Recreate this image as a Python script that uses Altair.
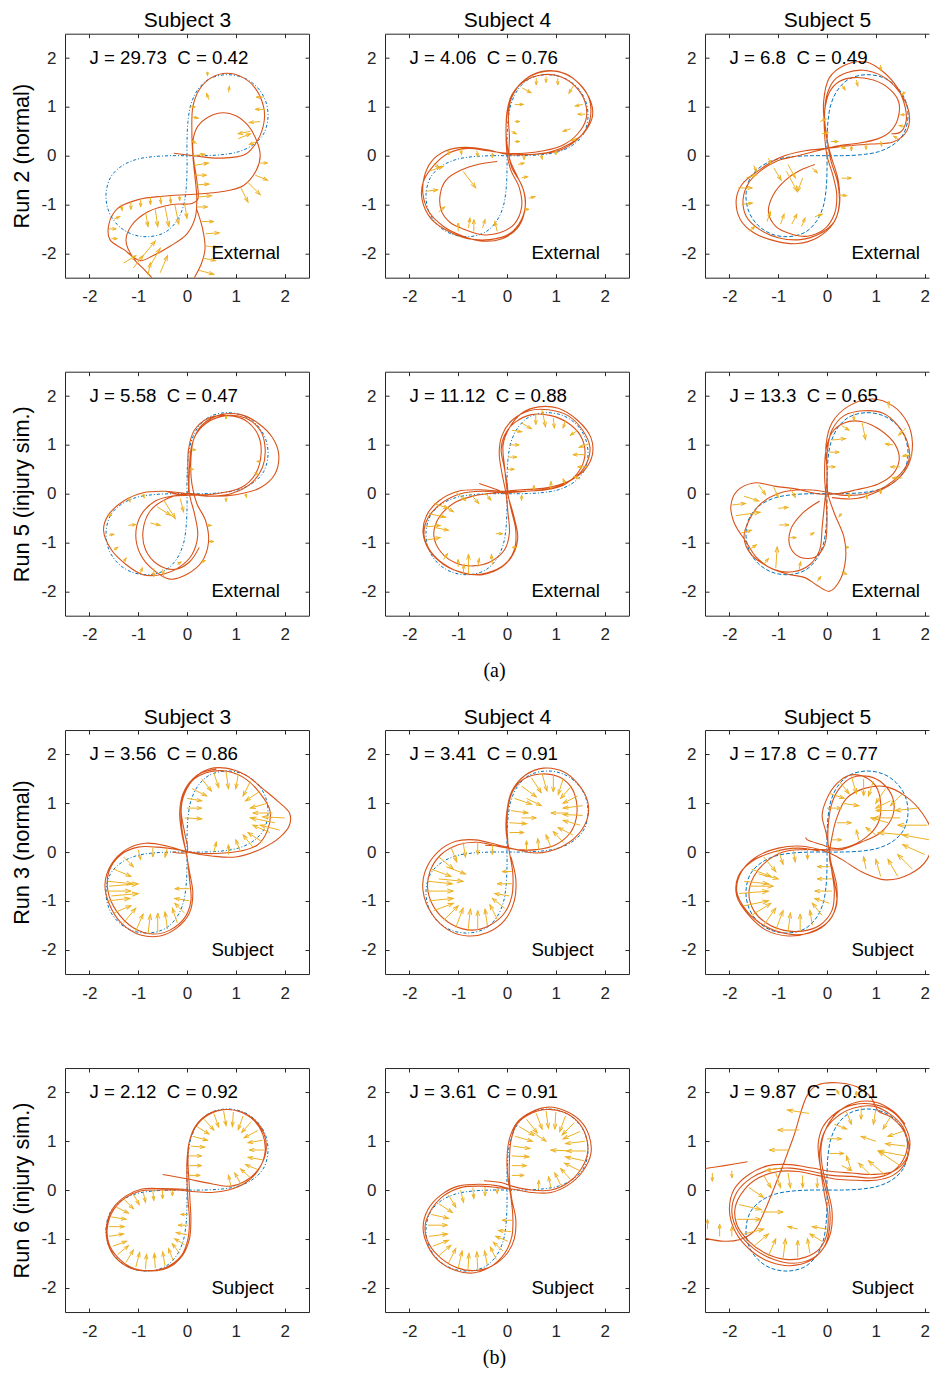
import math
import altair as alt
import pandas as pd

FONT = "Liberation Sans"
DARK = "#262626"
BLUE = "#0072BD"
ORANGE = "#D95319"
YELLOW = "#EDB120"

SUBJECTS = ["Subject 3", "Subject 4", "Subject 5"]
RUN_LABELS = ["Run 2 (normal)", "Run 5 (injury sim.)", "Run 3 (normal)", "Run 6 (injury sim.)"]
MODES = ["External", "External", "Subject", "Subject"]
J_LABELS = [["29.73", "4.06", "6.8"], ["5.58", "11.12", "13.3"], ["3.56", "3.41", "17.8"], ["2.12", "3.61", "9.87"]]
C_LABELS = [["0.42", "0.76", "0.49"], ["0.47", "0.88", "0.65"], ["0.86", "0.91", "0.77"], ["0.92", "0.91", "0.81"]]
CAPTIONS = {1: "(a)", 3: "(b)"}
TICKS = [-2, -1, 0, 1, 2]
SCORE_POS = (-2.0, 2.0)
MODE_POS = (0.5, -2.0)

# reference figure-eight
REF = [(0, 0), (0, 0.3), (0.02, 0.7), (0.08, 1.05), (0.22, 1.35), (0.45, 1.57), (0.8, 1.66), (1.15, 1.6),
       (1.42, 1.42), (1.6, 1.15), (1.66, 0.8), (1.57, 0.45), (1.35, 0.22), (1.05, 0.08), (0.7, 0.02), (0.3, 0.0),
       (0, 0), (-0.3, 0.0), (-0.7, -0.02), (-1.05, -0.08), (-1.35, -0.22), (-1.57, -0.45), (-1.66, -0.8),
       (-1.6, -1.15), (-1.42, -1.42), (-1.15, -1.6), (-0.8, -1.66), (-0.45, -1.57), (-0.22, -1.35),
       (-0.08, -1.05), (-0.02, -0.7), (0, -0.3), (0, 0)]

TRAJ = {
(0, 0): [
 [(-0.27,0.05),(0.14,0.0),(0.68,-0.05),(1.2,0.03),(1.45,0.32),(1.58,0.7),(1.57,1.0),(1.4,1.38),(1.15,1.6),(0.82,1.69),(0.5,1.6),(0.25,1.35),(0.12,1.0),(0.1,0.5),(0.12,0.0),(0.17,-0.5),(0.2,-0.85),(0.17,-1.26),(0.0,-1.6),(-0.34,-1.85),(-0.7,-2.05),(-0.96,-2.15),(-1.3,-1.92),(-1.58,-1.72),(-1.6,-1.4),(-1.42,-1.08),(-1.0,-0.9),(-0.5,-0.83),(0.14,-0.79),(0.7,-0.74),(1.16,-0.61),(1.42,-0.3),(1.5,0.0),(1.43,0.3),(1.25,0.62),(1.0,0.82),(0.75,0.88),(0.45,0.8),(0.22,0.6),(0.12,0.3),(0.14,-0.1),(0.2,-0.5),(0.22,-0.9),(0.1,-0.98),(-0.3,-1.0),(-0.8,-1.15),(-1.15,-1.45),(-1.25,-1.75),(-1.1,-2.1),(-0.88,-2.33),(-0.72,-2.5)],
 [(0.2,-1.1),(0.32,-1.5),(0.37,-1.9),(0.3,-2.2),(0.15,-2.5)]],
(0, 1): [
 [(-0.2,-0.12),(-0.6,-0.18),(-0.93,-0.29),(-1.25,-0.5),(-1.37,-0.8),(-1.34,-1.14),(-1.15,-1.38),(-0.9,-1.5),(-0.5,-1.62),(-0.15,-1.58),(0.15,-1.4),(0.3,-1.05),(0.25,-0.65),(0.08,-0.3),(0.0,0.05),(-0.02,0.45),(0.0,0.9),(0.1,1.25),(0.35,1.52),(0.72,1.66),(1.1,1.62),(1.4,1.42),(1.6,1.1),(1.62,0.75),(1.45,0.45),(1.15,0.22),(0.75,0.1),(0.35,0.05),(0.0,0.05),
  (-0.4,0.1),(-0.8,0.15),(-1.2,0.05),(-1.5,-0.2),(-1.72,-0.55),(-1.74,-0.9),(-1.55,-1.3),(-1.2,-1.55),(-0.8,-1.7),(-0.35,-1.72),(0.05,-1.6),(0.3,-1.3),(0.38,-0.95),(0.3,-0.6),(0.1,-0.25),(0.02,0.1),(-0.02,0.5),(0.02,0.95),(0.15,1.3),(0.42,1.6),(0.8,1.74),(1.2,1.68),(1.5,1.45),(1.72,1.1),(1.75,0.8),(1.6,0.5),(1.3,0.25),(0.9,0.08),(0.4,0.02),(0.0,0.03),
  (-0.4,0.12),(-0.85,0.17),(-1.25,0.1),(-1.55,-0.12),(-1.7,-0.45),(-1.72,-0.8),(-1.6,-1.15),(-1.3,-1.45),(-0.9,-1.65),(-0.5,-1.75),(-0.1,-1.7),(0.2,-1.5),(0.36,-1.15),(0.35,-0.75),(0.2,-0.4),(0.05,-0.05),(0.05,0.4),(0.03,0.85),(0.1,1.2),(0.3,1.5),(0.65,1.7),(1.05,1.72),(1.4,1.55),(1.65,1.25),(1.72,0.9),(1.65,0.6),(1.4,0.3),(1.05,0.1),(0.6,0.03),(0.2,0.03)]],
(0, 2): [
 [(-0.25,-0.18),(-0.55,-0.3),(-0.85,-0.5),(-1.1,-0.8),(-1.2,-1.15),(-1.05,-1.45),(-0.75,-1.6),(-0.4,-1.65),(-0.05,-1.5),(0.15,-1.2),(0.2,-0.8),(0.12,-0.4),(0.0,0.0),(-0.05,0.45),(-0.05,0.9),(0.05,1.3),(0.25,1.52),(0.55,1.6),(0.95,1.55),(1.3,1.35),(1.47,1.1),(1.45,0.75),(1.3,0.5),(1.05,0.35),(0.6,0.25),(0.2,0.2),(-0.2,0.1),(-0.6,0.0),(-1.0,-0.1),(-1.35,-0.3),(-1.6,-0.55),(-1.72,-0.9),(-1.65,-1.25),(-1.4,-1.5),(-1.0,-1.68),(-0.55,-1.72),(-0.15,-1.6),(0.15,-1.35),(0.25,-1.0),(0.22,-0.55),(0.08,-0.1),(0.0,0.35),(-0.05,0.8),(0.0,1.25),(0.15,1.55),(0.4,1.7),(0.75,1.75),(1.15,1.62),(1.45,1.35),(1.65,1.0),(1.69,0.7),(1.6,0.45),(1.35,0.28),(0.9,0.24),(0.4,0.2),(0.0,0.15),(-0.45,0.1),(-0.95,-0.03),(-1.4,-0.3),(-1.75,-0.6),(-1.86,-0.9),(-1.78,-1.3),(-1.5,-1.58),(-1.05,-1.75),(-0.6,-1.8),(-0.2,-1.68),(0.12,-1.4),(0.25,-1.05),(0.23,-0.5),(0.08,0.0),(-0.03,0.5),(-0.07,1.1),(0.05,1.6),(0.35,1.85),(0.8,1.92),(1.15,1.72),(1.45,1.38),(1.6,1.0),(1.62,0.7),(1.5,0.48),(1.32,0.45)]],
(1, 0): [
 [(-0.44,0.05),(0.0,0.0),(0.02,0.4),(0.03,0.9),(0.15,1.3),(0.45,1.55),(0.85,1.6),(1.2,1.5),(1.45,1.22),(1.52,0.85),(1.4,0.4),(1.1,0.12),(0.6,0.0),(0.1,-0.03),(-0.3,-0.05),(-0.65,-0.15),(-0.95,-0.45),(-1.05,-0.85),(-0.95,-1.25),(-0.7,-1.55),(-0.35,-1.75),(0.0,-1.65),(0.3,-1.4),(0.44,-1.0),(0.38,-0.55),(0.2,-0.2),(0.1,0.2),(0.08,0.7),(0.15,1.15),(0.4,1.45),(0.8,1.6),(1.2,1.55),(1.5,1.3),(1.6,0.95),(1.55,0.55),(1.3,0.2),(0.9,0.0),(0.4,-0.05),(0.0,0.0),(-0.45,0.05),(-0.9,0.02),(-1.3,-0.15),(-1.62,-0.45),(-1.71,-0.75),(-1.55,-1.15),(-1.25,-1.45),(-0.9,-1.66),(-0.5,-1.65),(-0.15,-1.5),(0.1,-1.25),(0.22,-0.85),(0.15,-0.4),(0.05,0.0),(0.05,0.5),(0.1,1.0),(0.3,1.4),(0.7,1.62),(1.1,1.62),(1.45,1.45),(1.75,1.15),(1.88,0.8),(1.8,0.4),(1.5,0.12),(1.0,-0.02),(0.5,-0.05),(0.0,0.0),(-0.4,-0.1),(-0.75,-0.35),(-0.9,-0.75),(-0.85,-1.15),(-0.6,-1.45),(-0.25,-1.55),(0.05,-1.4),(0.25,-1.1)]],
(1, 1): [
 [(-0.57,0.21),(-0.2,0.08),(0.0,0.0),(-0.05,0.5),(-0.12,0.9),(-0.05,1.2),(0.15,1.45),(0.5,1.62),(0.9,1.6),(1.25,1.45),(1.5,1.2),(1.6,0.85),(1.5,0.5),(1.2,0.2),(0.8,0.08),(0.3,0.05),(-0.2,0.02),(-0.7,-0.05),(-1.1,-0.2),(-1.4,-0.5),(-1.5,-0.85),(-1.35,-1.2),(-1.05,-1.42),(-0.7,-1.48),(-0.35,-1.4),(-0.05,-1.15),(0.05,-0.8),(0.02,-0.4),(-0.02,0.0),(-0.1,0.4),(-0.16,0.85),(-0.1,1.2),(0.1,1.5),(0.45,1.7),(0.85,1.72),(1.25,1.6),(1.55,1.3),(1.7,0.95),(1.62,0.6),(1.35,0.3),(0.95,0.12),(0.4,0.05),(0.0,0.02),(-0.5,0.05),(-0.95,0.0),(-1.35,-0.2),(-1.62,-0.5),(-1.7,-0.85),(-1.55,-1.2),(-1.2,-1.5),(-0.8,-1.65),(-0.4,-1.62),(-0.05,-1.45),(0.15,-1.15),(0.18,-0.75),(0.08,-0.3),(0.0,0.1),(-0.05,0.55),(-0.08,1.0),(0.05,1.35),(0.3,1.65),(0.65,1.78),(1.05,1.75),(1.45,1.5),(1.72,1.15),(1.75,0.8),(1.6,0.5),(1.25,0.25),(0.8,0.12),(0.3,0.08),(-0.1,0.05),(-0.55,0.08),(-1.0,0.05),(-1.4,-0.15),(-1.65,-0.45),(-1.72,-0.8),(-1.6,-1.15),(-1.3,-1.45),(-0.9,-1.62),(-0.5,-1.66),(-0.1,-1.5),(0.12,-1.25),(0.22,-0.9),(0.15,-0.5),(0.05,-0.15)]],
(1, 2): [
 [(-0.15,-0.15),(-0.5,-0.4),(-0.75,-0.75),(-0.75,-1.1),(-0.55,-1.3),(-0.25,-1.3),(-0.05,-1.05),(0.0,-0.6),(-0.02,-0.1),(-0.05,0.4),(-0.02,0.9),(0.1,1.25),(0.35,1.45),(0.7,1.48),(1.1,1.3),(1.4,1.0),(1.48,0.7),(1.35,0.4),(1.05,0.2),(0.6,0.08),(0.2,0.0),(-0.2,0.0),(-0.65,0.1),(-1.05,0.15),(-1.5,0.22),(-1.85,0.05),(-1.97,-0.25),(-1.9,-0.6),(-1.65,-1.0),(-1.45,-1.3),(-1.1,-1.55),(-0.7,-1.6),(-0.35,-1.45),(-0.15,-1.15),(-0.1,-0.7),(-0.05,-0.2),(0.0,0.3),(0.0,0.8),(0.1,1.3),(0.35,1.6),(0.75,1.7),(1.15,1.65),(1.45,1.4),(1.65,1.05),(1.68,0.7),(1.5,0.4),(1.2,0.15),(0.8,0.0),(0.3,-0.03),(-0.1,0.05),(-0.5,0.08),(-0.95,0.02),(-1.35,-0.2),(-1.6,-0.55),(-1.7,-0.9),(-1.55,-1.25),(-1.2,-1.5),(-0.8,-1.65),(-0.45,-1.72),(-0.2,-1.88),(0.05,-2.0),(0.25,-1.8),(0.38,-1.35),(0.35,-0.9),(0.15,-0.4),(0.02,0.0),(0.0,0.5),(-0.02,1.0),(0.1,1.45),(0.45,1.8),(0.93,1.94),(1.35,1.8),(1.65,1.45),(1.75,1.05),(1.68,0.62),(1.45,0.3),(1.05,0.05),(0.6,-0.1),(0.1,-0.08)]],
(2, 0): [
 [(-0.3,0.0),(0.0,0.0),(-0.05,0.4),(-0.12,0.85),(-0.05,1.2),(0.15,1.5),(0.5,1.65),(0.85,1.65),(1.2,1.5),(1.5,1.2),(1.7,0.85),(1.65,0.45),(1.45,0.15),(1.1,0.02),(0.6,-0.03),(0.2,-0.02),(-0.2,0.05),(-0.6,0.1),(-1.0,0.1),(-1.35,-0.05),(-1.6,-0.4),(-1.62,-0.8),(-1.45,-1.2),(-1.1,-1.55),(-0.7,-1.68),(-0.35,-1.6),(-0.05,-1.35),(0.08,-1.0),(0.05,-0.55),(0.0,-0.1),(-0.1,0.35),(-0.15,0.8),(-0.08,1.2),(0.12,1.5),(0.45,1.7),(0.8,1.72),(1.2,1.58),(1.55,1.3),(1.85,1.05),(2.1,0.8),(2.1,0.55),(1.9,0.3),(1.55,0.08),(1.0,-0.1),(0.5,-0.08),(0.0,0.0),(-0.4,0.12),(-0.85,0.18),(-1.25,0.05),(-1.55,-0.25),(-1.68,-0.65),(-1.6,-1.05),(-1.35,-1.45),(-0.95,-1.7),(-0.55,-1.72),(-0.2,-1.55),(0.05,-1.25),(0.12,-0.85),(0.05,-0.4),(-0.02,0.0),(-0.1,0.45),(-0.12,0.9),(-0.02,1.3),(0.25,1.6),(0.6,1.7)]],
(2, 1): [
 [(-0.45,0.14),(-0.1,0.12),(0.0,0.1),(0.0,0.5),(0.02,0.9),(0.12,1.25),(0.35,1.5),(0.7,1.6),(1.05,1.55),(1.3,1.35),(1.42,1.05),(1.42,0.7),(1.3,0.4),(1.0,0.15),(0.6,0.05),(0.2,0.05),(-0.2,0.12),(-0.6,0.2),(-1.0,0.15),(-1.35,-0.05),(-1.58,-0.4),(-1.62,-0.8),(-1.45,-1.2),(-1.1,-1.5),(-0.7,-1.6),(-0.35,-1.5),(-0.05,-1.25),(0.1,-0.9),(0.12,-0.45),(0.05,0.0),(-0.02,0.45),(0.0,0.85),(0.1,1.25),(0.38,1.58),(0.75,1.72),(1.15,1.65),(1.45,1.4),(1.65,1.05),(1.65,0.7),(1.45,0.35),(1.1,0.1),(0.6,-0.02),(0.2,0.05),(-0.2,0.15),(-0.65,0.25),(-1.05,0.22),(-1.42,0.0),(-1.68,-0.4),(-1.72,-0.8),(-1.55,-1.25),(-1.2,-1.6),(-0.8,-1.72),(-0.4,-1.65),(-0.05,-1.4),(0.15,-1.0),(0.18,-0.55),(0.08,-0.1)]],
(2, 2): [
 [(-0.44,0.3),(-0.4,0.25),(-0.1,0.15),(0.1,0.08),(0.4,0.1),(0.8,0.3),(1.05,0.6),(1.1,1.0),(1.0,1.35),(0.75,1.55),(0.45,1.57),(0.2,1.4),(0.0,1.1),(-0.1,0.75),(-0.02,0.4),(0.05,0.0),(0.1,-0.4),(0.15,-0.8),(0.1,-1.2),(-0.15,-1.5),(-0.5,-1.62),(-0.9,-1.6),(-1.25,-1.45),(-1.5,-1.2),(-1.6,-0.85),(-1.5,-0.5),(-1.25,-0.2),(-0.9,0.0),(-0.5,0.05),(-0.1,0.05),(0.3,0.05),(0.7,0.2),(1.1,0.4),(1.35,0.75),(1.35,1.1),(1.15,1.4),(0.85,1.55),(0.5,1.52),(0.25,1.3),(0.1,1.0),(0.03,0.6),(0.02,0.2),(0.08,-0.2),(0.2,-0.7),(0.18,-1.15),(-0.05,-1.5),(-0.45,-1.68),(-0.85,-1.67),(-1.3,-1.5),(-1.65,-1.2),(-1.85,-0.8),(-1.75,-0.4),(-1.45,-0.1),(-1.0,0.08),(-0.5,0.12),(0.0,0.0),(0.3,-0.15),(0.7,-0.4),(1.2,-0.57),(1.7,-0.45),(2.05,-0.15),(2.16,0.35),(1.95,0.8),(1.6,1.15),(1.2,1.34),(0.75,1.3),(0.4,1.1),(0.2,0.7),(0.1,0.3),(0.05,-0.1),(0.15,-0.6),(0.2,-1.0),(0.05,-1.4),(-0.35,-1.65),(-0.8,-1.72),(-1.25,-1.6),(-1.6,-1.3),(-1.85,-0.9),(-1.82,-0.5),(-1.55,-0.2),(-1.1,0.0),(-0.6,0.08),(-0.15,0.02)]],
(3, 0): [
 [(-0.5,0.32),(0.0,0.23),(0.5,0.13),(0.9,0.08),(1.22,0.2),(1.48,0.45),(1.62,0.8),(1.58,1.15),(1.4,1.42),(1.12,1.6),(0.8,1.65),(0.45,1.55),(0.2,1.33),(0.05,1.0),(0.0,0.6),(0.0,0.2),(0.02,-0.2),(0.05,-0.6),(0.02,-1.0),(-0.12,-1.35),(-0.42,-1.58),(-0.8,-1.65),(-1.15,-1.58),(-1.42,-1.38),(-1.6,-1.1),(-1.63,-0.75),(-1.5,-0.4),(-1.25,-0.15),(-0.95,-0.02),(-0.55,0.0),(-0.2,0.0),(0.1,-0.03),(0.5,-0.05),(0.85,0.0),(1.2,0.15),(1.47,0.42),(1.6,0.78),(1.55,1.15),(1.38,1.42),(1.1,1.6),(0.78,1.65),(0.42,1.55),(0.18,1.32),(0.05,1.0),(0.02,0.6),(0.04,0.2),(0.06,-0.2),(0.08,-0.6),(0.05,-1.0),(-0.1,-1.35),(-0.4,-1.6),(-0.78,-1.66),(-1.15,-1.6),(-1.45,-1.4),(-1.62,-1.1),(-1.65,-0.75),(-1.52,-0.38),(-1.25,-0.12),(-0.92,0.02),(-0.5,0.03),(-0.15,0.02),(0.05,0.0)]],
(3, 1): [
 [(-0.47,0.19),(-0.1,0.15),(0.1,0.08),(0.5,0.0),(0.9,0.0),(1.25,0.15),(1.5,0.4),(1.65,0.75),(1.62,1.1),(1.45,1.4),(1.15,1.6),(0.8,1.65),(0.45,1.55),(0.2,1.35),(0.08,1.0),(0.05,0.6),(0.05,0.2),(0.1,-0.2),(0.18,-0.6),(0.15,-1.0),(0.0,-1.3),(-0.3,-1.55),(-0.65,-1.65),(-1.0,-1.6),(-1.35,-1.4),(-1.6,-1.1),(-1.68,-0.75),(-1.55,-0.4),(-1.3,-0.12),(-0.95,0.05),(-0.55,0.08),(-0.2,0.05),(0.1,0.02),(0.5,-0.05),(0.9,-0.05),(1.25,0.1),(1.55,0.38),(1.72,0.75),(1.68,1.12),(1.5,1.42),(1.2,1.62),(0.85,1.7),(0.5,1.6),(0.22,1.4),(0.05,1.05),(0.0,0.65),(0.02,0.25),(0.08,-0.15),(0.12,-0.55),(0.1,-0.95),(-0.05,-1.3),(-0.35,-1.58),(-0.7,-1.7),(-1.05,-1.65),(-1.4,-1.45),(-1.62,-1.15),(-1.72,-0.78),(-1.62,-0.4),(-1.35,-0.1),(-1.0,0.08),(-0.55,0.12),(-0.15,0.08),(0.1,0.0)]],
(3, 2): [
 [(-2.49,0.44),(-2.1,0.5),(-1.63,0.58)],
 [(-2.49,-0.99),(-2.1,-1.05),(-1.8,-1.02),(-1.5,-0.85),(-1.4,-0.7),(-1.1,0.0),(-0.7,1.05),(-0.4,1.95),(-0.2,2.15),(0.2,2.2),(0.6,2.12),(0.9,1.9),(1.05,1.62),(1.3,1.5),(1.55,1.25),(1.68,0.9),(1.6,0.55),(1.35,0.3),(1.0,0.2),(0.6,0.2),(0.2,0.22),(-0.2,0.3),(-0.6,0.38),(-1.0,0.38),(-1.4,0.25),(-1.7,0.0),(-1.88,-0.35),(-1.85,-0.7),(-1.6,-1.05),(-1.25,-1.3),(-0.85,-1.42),(-0.45,-1.38),(-0.15,-1.2),(0.0,-0.9),(0.02,-0.5),(-0.05,-0.1),(-0.12,0.35),(-0.15,0.8),(-0.05,1.2),(0.2,1.5),(0.55,1.68),(0.95,1.72),(1.3,1.55),(1.55,1.3),(1.65,0.95),(1.55,0.6),(1.3,0.35),(0.95,0.25),(0.5,0.28),(0.1,0.3),(-0.3,0.38),(-0.75,0.45),(-1.15,0.42),(-1.55,0.25),(-1.85,-0.05),(-1.95,-0.45),(-1.82,-0.85),(-1.5,-1.2),(-1.1,-1.42),(-0.7,-1.5),(-0.3,-1.4),(-0.05,-1.15),(0.05,-0.8),(0.05,-0.35),(-0.05,0.1),(-0.15,0.55),(-0.18,0.95),(-0.08,1.3),(0.18,1.58),(0.55,1.75),(0.98,1.75),(1.35,1.6),(1.6,1.3),(1.7,0.95),(1.6,0.6),(1.35,0.38),(0.95,0.32),(0.5,0.35),(0.1,0.38),(-0.3,0.45),(-0.75,0.52),(-1.2,0.5),(-1.6,0.32),(-1.9,0.02),(-2.0,-0.4),(-1.88,-0.85),(-1.55,-1.25),(-1.15,-1.48),(-0.75,-1.55),(-0.35,-1.45),(-0.08,-1.2),(0.08,-0.85),(0.1,-0.4),(0.0,0.05),(-0.1,0.5),(-0.12,0.9),(0.0,1.3),(0.25,1.62),(0.6,1.8),(1.0,1.8),(1.35,1.62),(1.6,1.35)]],
}

# quiver arrows: (x, y, u, v)
ARROWS = {
(0, 0): [(0.42,1.72,0.0,-0.08),(0.05,1.0,0.12,0.0),(0.08,0.8,0.15,-0.03),(0.45,1.15,-0.05,0.12),(0.85,1.3,0.02,0.12),(1.57,1.2,-0.15,0.0),(1.6,0.95,-0.2,0.0),(1.5,0.7,-0.22,-0.02),(1.3,0.5,-0.25,-0.05),(1.05,0.35,0.25,0.1),(1.4,0.28,-0.12,-0.05),(0.2,0.25,-0.1,0.05),
         (0.12,0.0,0.25,0.03),(0.14,-0.2,0.3,0.05),(0.15,-0.4,0.25,0.0),(0.17,-0.6,0.28,0.02),(0.2,-0.85,0.3,0.03),(0.2,-1.05,0.22,0.0),
         (1.25,-0.55,0.25,-0.25),(1.4,-0.4,0.25,-0.1),(1.1,-0.65,0.15,-0.3),(1.5,-0.15,0.15,0.0),
         (-1.35,-1.0,0.02,-0.12),(-1.15,-0.95,0.0,-0.15),(-0.95,-0.9,0.0,-0.15),(-0.75,-0.85,0.0,-0.15),(-0.55,-0.83,0.02,-0.15),(-0.35,-0.82,0.02,-0.15),(-0.15,-0.8,0.0,-0.12),
         (-0.85,-1.15,0.05,-0.3),(-0.65,-1.1,0.05,-0.35),(-0.45,-1.05,0.08,-0.4),(-0.25,-1.0,0.08,-0.4),(-0.05,-0.98,0.05,-0.3),
         (-1.6,-1.5,0.15,0.0),(-1.5,-1.3,0.12,0.05),(-1.55,-1.7,0.12,0.0),
         (-1.3,-2.2,0.25,0.15),(-1.1,-2.3,0.2,0.25),(-0.9,-2.05,0.25,0.3),(-0.75,-2.25,0.2,0.35),(-0.55,-2.4,0.15,0.35),(-0.8,-2.45,0.05,0.25),
         (0.3,-1.35,0.25,0.0),(0.38,-1.6,0.28,0.02),(0.38,-1.85,0.25,-0.03),(0.33,-2.1,0.25,-0.05),(0.25,-2.35,0.3,-0.08)],
(0, 1): [(0.31,1.39,0.18,-0.1),(0.16,1.05,0.18,0.0),(0.6,1.59,0.0,-0.14),(1.04,1.59,0.0,-0.14),(1.37,1.45,-0.1,-0.17),(1.6,0.85,-0.15,0.0),(1.55,1.05,-0.15,-0.03),(1.44,0.36,-0.12,-0.05),(1.3,0.55,-0.15,-0.05),(0.8,1.62,0.0,-0.12),(0.16,0.7,0.1,0.0),(0.09,0.5,0.1,-0.05),(0.16,0.29,0.1,0.0),(0.23,-0.18,0.12,0.03),(0.3,-0.45,0.12,0.02),(0.45,-0.87,0.12,0.03),(0.35,-1.1,0.1,0.0),(-0.9,-0.32,0.26,-0.34),(-1.0,-1.55,0.0,0.17),(-0.79,-1.48,0.03,0.2),(-0.68,-1.55,0.0,0.24),(-0.5,-1.48,0.05,0.17),(-0.2,-1.55,-0.05,0.2),(-1.67,-0.73,0.25,0.03),(-1.6,-0.32,0.29,0.1),(-1.4,-1.15,0.12,0.1),(-1.19,0.12,0.0,-0.1),(-0.95,0.15,0.02,-0.12),(-0.62,0.1,0.02,-0.12),(-0.3,0.06,0.0,-0.1),(0.35,0.02,0.0,-0.1),(0.7,0.03,0.02,-0.1),(1.0,0.12,0.0,-0.1),(-1.5,-0.15,0.1,-0.1)],
(0, 2): [(1.1,1.86,0.0,-0.12),(1.61,1.32,-0.07,-0.07),(1.61,0.84,-0.1,0.0),(1.58,0.6,-0.1,0.02),(1.45,0.35,-0.08,0.05),(0.3,1.45,0.07,-0.1),(0.6,1.55,0.03,-0.12),(-0.14,0.7,0.12,0.05),(-0.1,0.45,0.12,0.02),(0.08,0.29,0.15,0.0),(0.25,0.2,0.12,-0.05),(0.5,0.22,0.0,-0.12),(0.8,0.25,0.0,-0.12),(1.1,0.3,0.02,-0.1),(-0.8,-0.18,0.15,-0.27),(-1.09,-0.25,0.15,-0.25),(-0.83,-0.32,0.22,-0.41),(-0.5,-0.46,-0.1,-0.27),(-0.3,-0.25,0.1,-0.1),(-1.82,-0.66,0.29,0.0),(-1.75,-1.0,0.22,0.03),(-1.65,-0.45,0.2,0.05),(-1.23,-1.35,0.07,0.2),(-0.95,-1.4,0.07,0.2),(-0.72,-1.4,0.1,0.2),(-0.52,-1.45,0.07,0.17),(-0.25,-1.25,0.15,0.05),(0.3,-0.46,0.2,0.0),(0.25,-0.8,0.15,-0.02),(-1.5,-0.2,0.05,-0.12),(-1.2,-0.05,0.05,-0.12),(-1.6,-1.55,0.12,0.1)],
(1, 0): [(-0.48,-0.13,0.24,-0.38),(-0.61,-0.27,0.27,-0.17),(-0.14,-0.1,0.07,-0.27),(-1.64,-0.44,0.1,0.0),(-1.6,-0.85,0.1,0.02),(-1.5,-1.15,0.08,0.05),(-1.3,-1.4,0.05,0.08),(-0.68,-1.53,0.0,-0.17),(-0.5,-1.55,0.02,-0.12),(-0.95,-1.62,0.03,0.1),(0.45,-0.98,0.1,0.0),(0.42,-0.65,0.08,0.0),(0.3,-1.4,0.07,0.03),(-1.2,-0.08,0.03,-0.08),(-0.9,0.0,0.02,-0.08),(0.8,-0.08,0.0,-0.08),(1.2,0.0,0.02,-0.07),(1.5,0.66,-0.07,0.0),(1.45,0.4,-0.05,0.03),(0.8,1.6,0.0,-0.07),(0.1,0.9,0.08,0.0),(0.05,0.5,0.08,0.0),(-0.75,-0.6,0.2,-0.05),(-0.2,-1.45,0.08,0.05),(-1.2,-0.65,0.15,0.02)],
(1, 1): [(0.72,1.71,0.07,-0.34),(0.59,1.64,0.0,-0.22),(0.95,1.55,0.02,-0.2),(1.2,1.5,-0.05,-0.15),(0.3,1.45,0.2,-0.12),(0.1,1.3,0.2,-0.03),(0.05,1.0,0.2,0.0),(0.02,0.75,0.18,0.0),(0.0,0.5,0.15,0.0),(1.68,1.02,-0.2,-0.07),(1.65,0.55,-0.2,0.0),(1.45,1.3,-0.15,-0.1),(1.5,0.3,-0.12,0.05),(1.2,0.18,-0.05,0.12),(0.9,0.1,0.0,0.15),(0.55,0.05,0.0,0.12),(1.6,0.8,-0.25,0.0),(-1.67,-0.68,0.3,0.03),(-1.6,-0.41,0.34,-0.07),(-1.5,-0.2,0.3,-0.1),(-1.65,-0.95,0.28,0.05),(-1.05,0.03,0.2,-0.17),(-0.75,0.0,0.17,-0.2),(-0.45,0.02,0.12,-0.15),(-0.79,-1.64,0.0,0.4),(-0.6,-1.5,0.03,0.17),(-1.0,-1.5,0.0,0.15),(-1.3,-1.35,0.08,0.12),(-0.3,-1.45,-0.02,0.2),(-0.23,-0.82,0.14,0.0),(0.1,-1.1,0.1,0.0),(-1.45,-0.7,0.25,-0.05),(-1.3,-0.25,0.2,-0.12),(-0.9,-1.65,0.02,0.2),(0.3,-0.15,0.0,0.12)],
(1, 2): [(0.72,1.45,0.07,-0.34),(0.55,1.65,0.0,-0.15),(0.3,1.4,0.15,-0.1),(0.11,1.1,0.27,0.03),(0.05,0.85,0.2,0.0),(0.0,0.55,0.17,0.0),(1.61,1.34,-0.14,-0.14),(1.75,0.8,-0.2,-0.03),(1.54,0.32,-0.2,0.0),(1.27,1.75,0.0,0.14),(1.35,1.0,-0.15,0.02),(1.5,0.55,-0.2,0.0),(0.45,0.02,0.0,-0.1),(0.8,0.0,0.02,-0.1),(1.1,0.1,0.0,-0.1),(-1.94,-0.23,0.27,0.03),(-1.87,-0.45,0.5,0.07),(-1.7,-0.05,0.3,-0.1),(-1.4,0.18,0.14,-0.2),(-1.1,0.15,0.1,-0.22),(-0.75,0.1,0.1,-0.17),(-0.98,-0.64,0.2,0.0),(-1.0,-0.3,0.2,0.02),(-1.05,-1.53,0.03,0.44),(-0.57,-1.55,0.03,0.15),(-0.2,-1.8,0.07,0.1),(-1.6,-1.15,0.15,0.1),(-1.75,-0.8,0.2,0.05),(0.3,-0.4,-0.05,-0.07),(0.38,-1.1,0.07,0.0),(0.3,-1.6,0.1,-0.05),(-0.75,-0.9,0.12,0.0),(-0.35,-0.85,0.08,0.05),(-1.3,-1.45,0.1,0.12)],
(2, 0): [(0.0,0.9,0.3,0.0),(-0.05,0.7,0.35,-0.02),(0.0,1.1,0.3,-0.05),(0.1,1.3,0.3,-0.15),(0.3,1.5,0.2,-0.25),(0.55,1.62,0.1,-0.3),(0.8,1.65,0.05,-0.35),(1.05,1.6,-0.05,-0.3),(1.3,1.45,-0.15,-0.3),(1.5,1.25,-0.3,-0.2),(1.65,1.0,-0.35,-0.1),(1.75,0.8,-0.4,0.0),(1.8,0.6,-0.5,0.1),(1.7,0.4,-0.35,0.15),(1.55,0.2,-0.3,0.2),(1.35,0.1,-0.2,0.25),(1.1,0.0,-0.1,0.25),(0.85,-0.05,0.0,0.2),(0.55,0.0,0.05,0.2),(2.0,0.7,-0.45,0.02),(1.9,0.45,-0.4,0.1),
         (-0.4,0.1,-0.05,-0.2),(-0.7,0.1,0.0,-0.2),(-1.0,0.05,0.05,-0.2),(-1.3,-0.1,0.2,-0.2),(-1.5,-0.35,0.35,-0.15),(-1.62,-0.6,0.5,-0.05),(-1.65,-0.8,0.5,0.0),(-1.62,-1.0,0.45,0.05),(-1.5,-1.25,0.35,0.15),(-1.3,-1.45,0.25,0.3),(-1.05,-1.62,0.15,0.35),(-0.8,-1.68,0.05,0.4),(-0.6,-1.65,0.0,0.4),(-0.4,-1.58,-0.05,0.35),(-0.2,-1.45,-0.1,0.3),(-0.05,-1.25,-0.2,0.2),(0.05,-1.0,-0.3,0.05),(0.05,-0.75,-0.3,0.0),(-1.6,-0.7,0.6,0.05),(-1.55,-0.9,0.55,0.05)],
(2, 1): [(0.05,0.4,0.3,0.0),(0.05,0.6,0.35,-0.02),(0.08,0.85,0.35,-0.05),(0.15,1.1,0.35,-0.12),(0.3,1.35,0.3,-0.22),(0.5,1.52,0.2,-0.3),(0.72,1.6,0.1,-0.35),(0.95,1.58,0.0,-0.35),(1.15,1.5,-0.1,-0.32),(1.32,1.35,-0.22,-0.25),(1.45,1.15,-0.3,-0.15),(1.55,0.95,-0.4,-0.05),(1.55,0.75,-0.4,0.02),(1.5,0.55,-0.35,0.1),(1.35,0.35,-0.3,0.15),(1.15,0.2,-0.2,0.22),(0.9,0.1,-0.1,0.25),(0.65,0.05,-0.02,0.22),(0.4,0.05,0.0,0.18),(0.3,0.7,0.3,0.0),(0.4,1.1,0.3,-0.15),(1.25,0.8,-0.35,0.0),
         (-0.3,0.15,0.0,-0.2),(-0.6,0.2,0.0,-0.25),(-0.9,0.2,0.05,-0.3),(-1.15,0.1,0.12,-0.3),(-1.4,-0.1,0.3,-0.25),(-1.55,-0.35,0.4,-0.15),(-1.62,-0.6,0.5,-0.05),(-1.65,-0.8,0.55,0.0),(-1.6,-1.0,0.5,0.05),(-1.5,-1.2,0.4,0.15),(-1.3,-1.4,0.3,0.3),(-1.05,-1.55,0.15,0.4),(-0.8,-1.62,0.05,0.45),(-0.6,-1.6,0.0,0.4),(-0.4,-1.52,-0.05,0.35),(-0.2,-1.38,-0.15,0.3),(-0.05,-1.15,-0.25,0.2),(0.05,-0.9,-0.3,0.05),(0.1,-0.65,-0.3,0.0),(0.1,-0.4,-0.2,0.0),(-1.4,-0.55,0.5,-0.05),(-1.25,-0.3,0.4,-0.15)],
(2, 2): [(0.0,0.9,0.3,0.0),(0.05,1.2,0.3,-0.1),(0.25,1.45,0.2,-0.25),(0.5,1.55,0.1,-0.35),(0.75,1.5,0.0,-0.35),(0.95,1.45,-0.1,-0.3),(1.2,1.3,-0.2,-0.3),(1.3,1.05,-0.3,-0.15),(1.4,0.85,-0.4,0.0),(1.25,0.6,-0.35,0.1),(1.0,0.35,-0.2,0.15),(0.65,0.25,-0.05,0.2),(0.3,1.0,0.35,-0.05),(0.2,0.6,0.3,0.0),(1.55,1.2,-0.25,-0.25),(1.85,0.9,-0.45,-0.05),(2.05,0.55,-0.6,0.0),(2.1,0.25,-0.55,0.1),(2.0,-0.05,-0.45,0.2),(1.75,-0.35,-0.3,0.3),(1.45,-0.5,-0.2,0.35),(1.1,-0.5,-0.1,0.35),(0.8,-0.35,-0.05,0.25),(1.6,0.35,-0.55,0.05),(1.5,0.7,-0.55,0.0),(0.1,0.25,0.2,0.0),
         (-0.4,0.1,0.0,-0.25),(-0.7,0.1,0.05,-0.3),(-1.0,0.05,0.1,-0.3),(-1.3,-0.1,0.25,-0.3),(-1.55,-0.35,0.4,-0.15),(-1.7,-0.6,0.5,-0.05),(-1.8,-0.85,0.6,0.05),(-1.7,-1.1,0.5,0.1),(-1.55,-1.3,0.4,0.25),(-1.3,-1.5,0.25,0.35),(-1.05,-1.6,0.15,0.4),(-0.8,-1.65,0.05,0.4),(-0.55,-1.62,0.0,0.35),(-0.3,-1.5,-0.05,0.3),(-0.1,-1.3,-0.2,0.25),(0.05,-1.05,-0.3,0.1),(0.1,-0.8,-0.35,0.0),(0.1,-0.55,-0.3,0.0),(0.05,-0.3,-0.25,0.0),(-1.6,-0.7,0.5,0.0),(-1.4,-0.45,0.4,-0.1)],
(3, 0): [(0.05,0.3,0.22,0.0),(0.05,0.5,0.25,0.0),(0.05,0.7,0.25,0.0),(0.08,0.9,0.28,-0.02),(0.12,1.1,0.3,-0.08),(0.2,1.3,0.25,-0.15),(0.35,1.45,0.2,-0.22),(0.55,1.57,0.1,-0.28),(0.75,1.62,0.05,-0.3),(0.95,1.6,-0.02,-0.3),(1.15,1.52,-0.1,-0.28),(1.32,1.4,-0.2,-0.22),(1.45,1.22,-0.28,-0.15),(1.55,1.02,-0.3,-0.05),(1.58,0.82,-0.3,0.0),(1.55,0.62,-0.3,0.05),(1.45,0.42,-0.25,0.1),(1.3,0.25,-0.2,0.18),(1.1,0.13,-0.12,0.22),(0.9,0.08,-0.05,0.22),
         (-0.3,0.0,0.0,-0.12),(-0.5,0.0,0.0,-0.18),(-0.7,-0.01,0.02,-0.2),(-0.9,-0.03,0.05,-0.22),(-1.1,-0.08,0.12,-0.22),(-1.3,-0.18,0.2,-0.2),(-1.45,-0.35,0.25,-0.12),(-1.55,-0.55,0.3,-0.05),(-1.6,-0.75,0.32,0.0),(-1.6,-0.95,0.3,0.05),(-1.52,-1.15,0.28,0.1),(-1.42,-1.32,0.22,0.18),(-1.25,-1.48,0.15,0.25),(-1.05,-1.58,0.08,0.3),(-0.85,-1.62,0.02,0.3),(-0.65,-1.6,-0.02,0.3),(-0.45,-1.55,-0.05,0.28),(-0.28,-1.45,-0.1,0.25),(-0.15,-1.3,-0.15,0.2),(-0.05,-1.12,-0.2,0.12),(0.0,-0.92,-0.22,0.05),(0.02,-0.72,-0.2,0.0),(0.02,-0.5,-0.15,0.0)],
(3, 1): [(0.1,0.3,0.25,0.0),(0.1,0.5,0.3,0.0),(0.1,0.7,0.35,-0.02),(0.12,0.9,0.35,-0.05),(0.17,1.1,0.35,-0.1),(0.25,1.3,0.3,-0.18),(0.4,1.45,0.22,-0.28),(0.6,1.57,0.12,-0.32),(0.8,1.62,0.05,-0.35),(1.0,1.6,-0.02,-0.35),(1.2,1.52,-0.12,-0.32),(1.38,1.38,-0.25,-0.25),(1.5,1.2,-0.35,-0.15),(1.6,1.0,-0.4,-0.05),(1.62,0.8,-0.4,0.0),(1.58,0.6,-0.38,0.08),(1.48,0.4,-0.3,0.15),(1.3,0.22,-0.2,0.22),(1.1,0.1,-0.12,0.25),(0.9,0.05,-0.05,0.22),(0.65,0.02,0.0,0.18),(0.5,1.2,0.3,-0.2),(1.3,0.8,-0.4,0.02),
         (-0.2,0.05,0.0,-0.12),(-0.45,0.06,0.0,-0.18),(-0.7,0.05,0.02,-0.22),(-0.95,0.0,0.06,-0.25),(-1.2,-0.1,0.15,-0.25),(-1.4,-0.28,0.28,-0.18),(-1.55,-0.5,0.35,-0.08),(-1.62,-0.72,0.4,0.0),(-1.6,-0.95,0.38,0.05),(-1.52,-1.15,0.32,0.12),(-1.4,-1.35,0.25,0.22),(-1.2,-1.5,0.15,0.3),(-1.0,-1.6,0.08,0.35),(-0.8,-1.65,0.02,0.35),(-0.6,-1.62,-0.02,0.35),(-0.4,-1.55,-0.06,0.3),(-0.22,-1.42,-0.12,0.25),(-0.08,-1.25,-0.2,0.18),(0.02,-1.05,-0.25,0.1),(0.08,-0.85,-0.25,0.02),(0.1,-0.62,-0.2,0.0)],
(3, 2): [(1.6,0.9,-0.4,0.05),(1.55,1.2,-0.3,-0.1),(1.3,1.5,-0.15,-0.25),(1.0,1.65,-0.05,-0.3),(0.7,1.7,0.0,-0.25),(0.4,1.6,0.1,-0.25),(0.15,1.35,0.25,-0.1),(0.0,1.05,0.3,0.0),(0.05,0.75,0.3,0.0),(1.5,0.5,-0.45,0.3),(1.2,0.3,-0.35,0.3),(0.9,0.3,-0.25,0.25),(0.5,0.4,-0.1,0.3),(1.6,0.7,-0.55,0.1),(1.0,1.0,-0.3,0.1),(0.3,0.5,0.2,-0.1),
         (-0.37,1.57,-0.44,0.07),(-0.57,1.23,-0.44,0.0),(-0.78,0.82,-0.4,0.0),(-0.95,0.45,-0.3,-0.05),(-2.35,0.35,0.0,-0.17),(-1.95,0.4,0.0,-0.15),(-2.45,-0.8,0.0,0.2),(-2.2,-0.95,0.0,0.25),(-1.95,-0.95,0.0,0.2),(0.25,1.95,-0.05,0.1),(0.6,1.9,0.0,0.12),
         (-1.3,0.3,0.15,-0.25),(-1.05,0.35,0.1,-0.3),(-0.8,0.35,0.05,-0.3),(-0.5,0.3,0.0,-0.25),(-0.2,0.25,0.0,-0.2),(-1.6,0.05,0.3,-0.2),(-1.8,-0.3,0.45,-0.1),(-1.85,-0.6,0.5,0.0),(-1.7,-0.9,0.4,0.1),(-1.5,-1.15,0.3,0.25),(-1.2,-1.35,0.15,0.35),(-0.9,-1.4,0.05,0.4),(-0.6,-1.38,0.0,0.35),(-0.35,-1.3,-0.05,0.3),(-0.1,-1.05,-0.25,0.15),(0.0,-0.8,-0.3,0.05),(-0.6,-0.8,-0.2,0.05),(-1.35,-0.45,0.45,0.0)],
}

# layout
PLOT_W = [244, 244, 224]
PLOT_H = 244
X_MAX = [2.5, 2.5, 2.09]
REF_DASH = [[3, 2, 1, 2], [3, 2, 1, 2], [4, 2]]
HEAD = "M-0.7,2L0,0L0.7,2"
CAPTION_Y = {1: 59, 3: 49}
COL_TITLE_SIZE = 21
ROW_TITLE_SIZE = 21.7
TEXT_SIZE = 18.7


def make_axis(orient, labels=True, **kw):
    d = dict(orient=orient, values=TICKS, domain=False, ticks=True, tickSize=4, offset=-4,
             tickColor=DARK, tickWidth=1, grid=False, labels=labels)
    if labels:
        d.update(labelFont=FONT, labelFontSize=17, labelColor=DARK, labelExpr="'' + datum.value",
                 labelPadding=11 if orient == "bottom" else 9, labelOverlap=False, labelFlush=False)
    else:
        d.update(minExtent=0, maxExtent=0)
    d.update(kw)
    return alt.Axis(**d)


def border_axis(orient):
    return alt.Axis(orient=orient, domain=True, domainColor=DARK, domainWidth=1, ticks=False, labels=False,
                    grid=False, title=None, offset=0, minExtent=0, maxExtent=0)


def panel(r, c):
    xsc = alt.Scale(domain=[-2.5, X_MAX[c]], nice=False, zero=False)
    ysc = alt.Scale(domain=[-2.5, 2.5], nice=False, zero=False)
    if c == 1 and r in CAPTIONS:
        bkw = dict(title=CAPTIONS[r], titleFont="Liberation Serif", titleFontSize=20, titleFontWeight="normal",
                   titleColor="black", titleX=109, titleY=CAPTION_Y[r], titleAlign="center",
                   titleBaseline="middle", titleAngle=0)
    else:
        bkw = dict(title=None)
    if c == 0:
        lkw = dict(title=RUN_LABELS[r], titleFont=FONT, titleFontSize=ROW_TITLE_SIZE, titleFontWeight="normal",
                   titleColor="black", titlePadding=7)
    else:
        lkw = dict(title=None)
    if r in (0, 2):
        tkw = dict(title=SUBJECTS[c], titleFont=FONT, titleFontSize=COL_TITLE_SIZE, titleFontWeight="normal",
                   titleColor="black", titleX=122, titleY=-16.8, titleAlign="center",
                   titleBaseline="middle", titleAngle=0)
    else:
        tkw = dict(title=None)

    ref_df = pd.DataFrame({"x": [p[0] for p in REF], "y": [p[1] for p in REF], "o": list(range(len(REF)))})
    rows = []
    for s, seg in enumerate(TRAJ[(r, c)]):
        for i, (x, y) in enumerate(seg):
            rows.append({"x": x, "y": y, "s": s, "o": i})
    tdf = pd.DataFrame(rows)
    arr = []
    for (x, y, u, v) in ARROWS[(r, c)]:
        arr.append({"x": x, "y": y, "x2": x + u, "y2": y + v,
                    "ang": (math.degrees(math.atan2(u, v)) + 360) % 360, "len": math.hypot(u, v)})
    adf = pd.DataFrame(arr)

    X = lambda f, ax=None: alt.X(f, type="quantitative", scale=xsc, axis=ax)
    Y = lambda f, ax=None: alt.Y(f, type="quantitative", scale=ysc, axis=ax)

    ref = alt.Chart(ref_df).mark_line(color=BLUE, strokeWidth=1, strokeDash=REF_DASH[c],
                                       interpolate="catmull-rom", clip=True).encode(
        x=X("x", make_axis("bottom", True, **bkw)), y=Y("y", make_axis("left", True, **lkw)), order="o:Q")
    traj = alt.Chart(tdf).mark_line(color=ORANGE, strokeWidth=1.1, interpolate="catmull-rom", clip=True).encode(
        x=X("x"), y=Y("y"), detail="s:N", order="o:Q")
    shafts = alt.Chart(adf).mark_rule(color=YELLOW, strokeWidth=1, clip=True).encode(
        x=X("x"), y=Y("y"), x2="x2:Q", y2="y2:Q")
    heads = alt.Chart(adf).mark_point(shape=HEAD, filled=False, strokeWidth=1, color=YELLOW, opacity=1,
                                      clip=True).encode(
        x=X("x2"), y=Y("y2"), angle=alt.Angle("ang:Q", scale=None),
        size=alt.Size("len:Q", scale=alt.Scale(domain=[0, 0.6], range=[6, 40], clamp=True), legend=None))
    sdf = pd.DataFrame({"x": [SCORE_POS[0]], "y": [SCORE_POS[1]],
                        "t": ["J = " + J_LABELS[r][c] + " \u00a0C = " + C_LABELS[r][c]]})
    score = alt.Chart(sdf).mark_text(align="left", baseline="middle", font=FONT, fontSize=TEXT_SIZE,
                                     color="black").encode(x=X("x"), y=Y("y"), text="t:N")
    mdf = pd.DataFrame({"x": [MODE_POS[0]], "y": [MODE_POS[1]], "t": [MODES[r]]})
    mode = alt.Chart(mdf).mark_text(align="left", baseline="middle", font=FONT, fontSize=TEXT_SIZE,
                                    color="black").encode(x=X("x"), y=Y("y"), text="t:N")
    right_ticks = make_axis("right", False, title=None) if c < 2 else None
    frame = alt.Chart(ref_df).mark_line(opacity=0).encode(
        x=X("x", make_axis("top", False, **tkw)), y=Y("y", right_ticks), order="o:Q")
    border_a = alt.Chart(ref_df).mark_line(opacity=0).encode(
        x=X("x", border_axis("top")), y=Y("y", border_axis("left")), order="o:Q")
    border_b = alt.Chart(ref_df).mark_line(opacity=0).encode(
        x=X("x", border_axis("bottom")), y=Y("y", border_axis("right") if c < 2 else None), order="o:Q")

    ch = alt.layer(ref, traj, shafts, heads, score, mode, frame, border_a, border_b).resolve_axis(
        x="independent", y="independent")
    return ch.properties(width=PLOT_W[c], height=PLOT_H)


rows = [alt.hconcat(*[panel(r, c) for c in range(3)], spacing=50) for r in range(4)]
blockA = alt.vconcat(rows[0], rows[1], spacing=66)
blockB = alt.vconcat(rows[2], rows[3], spacing=66)
chart = alt.vconcat(blockA, blockB, spacing=25.35).properties(
    padding={"left": 3, "top": 1.7, "right": 0, "bottom": 0}, background="white"
).configure_view(strokeOpacity=0)

chart.save("out.html", embed_options={"renderer": "svg", "actions": False})
